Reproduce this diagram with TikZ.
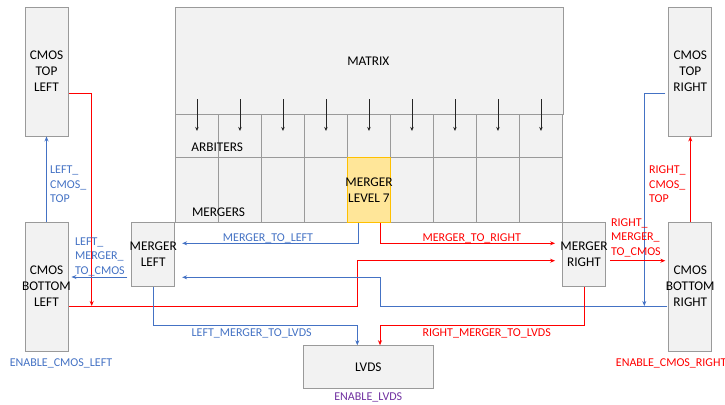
\documentclass[tikz,border=0pt]{standalone}
\usepackage{fontspec}
\setmainfont{Carlito}
\usetikzlibrary{arrows.meta,calc}
\definecolor{bblue}{HTML}{4472C4}
\definecolor{rred}{HTML}{FF0000}
\definecolor{ppurple}{HTML}{7030A0}
\definecolor{boxfill}{HTML}{F2F2F2}
\definecolor{boxline}{HTML}{9A9A9A}
\definecolor{yfill}{HTML}{FFE699}
\definecolor{yline}{HTML}{FFC000}
\begin{document}
\begin{tikzpicture}[x=1pt,y=-1pt,
  box/.style={draw=boxline, fill=boxfill, line width=0.9pt, inner sep=0pt},
  tallbox/.style={box, minimum width=43pt, minimum height=129pt},
  midbox/.style={box, minimum width=43pt, minimum height=64.7pt},
  cell/.style={box, minimum width=43pt, minimum height=43pt, anchor=north west},
  mcell/.style={box, minimum width=43pt, minimum height=65pt, anchor=north west},
  boxtxt/.style={font=\fontsize{13.3}{16}\selectfont, align=center, text=black, inner sep=0pt},
  lbl/.style={font=\fontsize{12}{14.4}\selectfont, inner sep=0pt},
  blbl/.style={lbl, text=bblue},
  rlbl/.style={lbl, text=rred},
  bline/.style={draw=bblue, line width=0.8pt},
  rline/.style={draw=rred, line width=0.8pt},
  tip/.style={-{Stealth[length=5pt,width=4pt]}},
  garrow/.style={draw=black!85, line width=0.7pt, -{Stealth[length=4pt,width=3.5pt]}}
]
\useasboundingbox (0,0) rectangle (725,404);

% matrix block
\node[box, minimum width=387.5pt, minimum height=107pt, anchor=north west] (matrix) at (175,7) {};
\node[boxtxt, anchor=base] (mattxt) at (368.3,66) {MATRIX};
\foreach \i in {0,...,8} {
  \node[cell] (arb\i) at ({175+43*\i},114) {};
}
\foreach \i in {0,1,2,3,5,6,7,8} {
  \node[mcell] (mrg\i) at ({175+43*\i},157) {};
}
\node[mcell, draw=yline, fill=yfill, label={[boxtxt]center:{MERGER\\LEVEL 7}}] (lvl7) at (347,157) {};
\foreach \i in {0,...,8} {
  \draw[garrow] ($(arb\i.north)+(0,-15)$) -- ($(arb\i.center)+(0,-5)$);
}
\node[boxtxt, anchor=base] (arbtxt) at (217.2,151.7) {ARBITERS};
\node[boxtxt, anchor=base] (mrgtxt) at (218.5,216) {MERGERS};

% side boxes
\node[tallbox, label={[boxtxt]center:{CMOS\\TOP\\LEFT}}] (ctl) at (46.5,71.5) {};
\node[tallbox, label={[boxtxt]center:{CMOS\\BOTTOM\\LEFT}}] (cbl) at (46.5,286.5) {};
\node[tallbox, label={[boxtxt]center:{CMOS\\TOP\\RIGHT}}] (ctr) at (690.3,71.5) {};
\node[tallbox, label={[boxtxt]center:{CMOS\\BOTTOM\\RIGHT}}] (cbr) at (690.3,286.5) {};
\node[midbox, label={[boxtxt]center:{MERGER\\LEFT}}] (ml) at (153.2,254.3) {};
\node[midbox, label={[boxtxt]center:{MERGER\\RIGHT}}] (mr) at (584,254.3) {};
\node[box, minimum width=130pt, minimum height=42.6pt, font=\fontsize{13.3}{16}\selectfont] (lvds) at (368.3,367) {LVDS};

% junction coordinates
\coordinate (jl) at (91.7,306);
\coordinate (jr) at (644.3,306);

% left side connectors
\draw[bline, tip] (cbl.north) -- (ctl.south);
\draw[rline, tip] ($(ctl.east)+(1,21.8)$) -| (jl);
\draw[rline, tip] ($(cbl.east)+(1,19.5)$) -- (357.3,306) |- ($(mr.west)+(-7,6.4)$);
\draw[bline, tip] ($(ml.west)+(-4,22.7)$) -- ($(cbl.east)+(3,-9.5)$);

% merger level 7 outputs
\draw[bline, tip] ($(lvl7.south)+(-11,0)$) |- ($(ml.east)+(7,-11)$);
\draw[rline, tip] ($(lvl7.south)+(11.7,0)$) |- ($(mr.west)+(-7,-11)$);

% right side connectors
\draw[bline, tip] ($(cbr.west)+(-1,19.5)$) -- (380,306) |- ($(ml.east)+(7,23)$);
\draw[bline, tip] ($(ctr.west)+(-3,21.8)$) -| (jr);
\draw[rline, tip] ($(mr.east)+(4,6.4)$) -- ($(cbr.west)+(-3,-25.8)$);
\draw[rline, tip] (cbr.north) -- (ctr.south);

% to LVDS
\draw[bline, tip] (ml.south) -- ++(0,38.3) -| ($(lvds.north)+(-11,0)$);
\draw[rline, tip] (mr.south) -- ++(0,38.3) -| ($(lvds.north)+(11.7,0)$);

% labels
\node[blbl, anchor=north west, align=left] (l1) at (50,165.7) {LEFT\_\\CMOS\_\\TOP};
\node[blbl, anchor=north west, align=left] (l2) at (75,237.3) {LEFT\_\\MERGER\_\\TO\_CMOS};
\node[blbl, anchor=base] (l3) at (268,241) {MERGER\_TO\_LEFT};
\node[rlbl, anchor=base] (l4) at (471.7,241) {MERGER\_TO\_RIGHT};
\node[blbl, anchor=base] (l5) at (251.7,336.5) {LEFT\_MERGER\_TO\_LVDS};
\node[rlbl, anchor=base] (l6) at (486.7,336.5) {RIGHT\_MERGER\_TO\_LVDS};
\node[rlbl, anchor=north west, align=left] (l7) at (611,218.3) {RIGHT\_\\MERGER\_\\TO\_CMOS};
\node[rlbl, anchor=north west, align=left] (l8) at (649,165.7) {RIGHT\_\\CMOS\_\\TOP};
\node[blbl, anchor=base] (e1) at (61,366) {ENABLE\_CMOS\_LEFT};
\node[rlbl, anchor=base west] (e2) at (615.7,366) {ENABLE\_CMOS\_RIGHT};
\node[lbl, text=ppurple, anchor=base] (e3) at (368.3,400.3) {ENABLE\_LVDS};
\end{tikzpicture}
\end{document}
